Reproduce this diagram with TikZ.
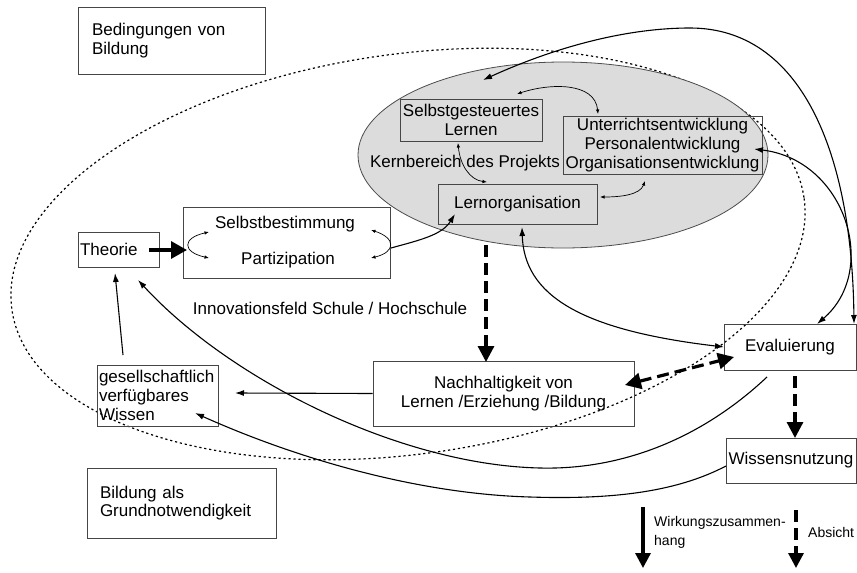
\documentclass[tikz,border=0pt]{standalone}
\usepackage{fontspec}
\setmainfont{Liberation Sans}
\usetikzlibrary{arrows.meta,shapes.geometric}
\definecolor{kerngray}{RGB}{220,220,220}
\definecolor{boxline}{RGB}{70,70,70}
\begin{document}
\begin{tikzpicture}[x=1pt,y=-1pt,
  font=\fontsize{17}{18.7}\selectfont,
  box/.style={draw=boxline, line width=0.9pt, inner xsep=2pt, inner ysep=0pt, align=center},
  lbox/.style={box, align=left},
  txt/.style={inner sep=0pt},
  conn/.style={line width=1.1pt, black},
  medtip/.style={-{Latex[length=9pt,width=6pt]}},
  medboth/.style={{Latex[length=9pt,width=6pt]}-{Latex[length=9pt,width=6pt]}},
  smallboth/.style={line width=0.7pt, {Latex[length=4.5pt,width=3.5pt]}-{Latex[length=4.5pt,width=3.5pt]}},
  thickdash/.style={line width=3.2pt, dash pattern=on 12pt off 6pt},
  bigtip/.style={-{Triangle[length=16pt,width=16pt]}},
  bigboth/.style={{Triangle[length=16pt,width=16pt]}-{Triangle[length=16pt,width=16pt]}},
  dotline/.style={line width=1.2pt, dash pattern=on 2.2pt off 2.8pt}
]
\useasboundingbox (0,0) rectangle (857,573);

% Innovationsfeld (dotted)
\draw[dotline, rotate around={8:(408,254)}] (408,254) ellipse [x radius=400, y radius=200];

% Kernbereich (grey ellipse)
\node[ellipse, draw=black!70, line width=0.8pt, fill=kerngray, minimum width=410pt, minimum height=186pt, inner sep=0pt] (kern) at (563,155) {};
\node[txt] (kernT) at (465,163) {Kernbereich des Projekts};

% boxes
\node[lbox, text width=159pt, inner xsep=14pt, minimum height=67pt] (bed) at (171.5,40.5) {Bedingungen von\\Bildung};
\node[lbox, text width=77pt, minimum height=35pt] (theo) at (118.5,249.5) {Theorie};
\node[box, minimum width=207pt, minimum height=71pt] (selb) at (286.5,242.5) {};
\node[txt] (selbA) at (285,224) {Selbstbestimmung};
\node[txt] (selbB) at (288,260) {Partizipation};
\node[box, minimum width=142pt, minimum height=42pt] (sgl) at (471,120) {Selbstgesteuertes\\Lernen};
\node[box, minimum width=199pt, minimum height=58pt] (uew) at (662.5,145) {Unterrichtsentwicklung\\Personalentwicklung\\Organisationsentwicklung};
\node[box, minimum width=159pt, minimum height=40pt] (lorg) at (517.5,204) {Lernorganisation};
\node[box, minimum width=261pt, minimum height=65pt] (nach) at (503.5,393.5) {Nachhaltigkeit von\\Lernen /Erziehung /Bildung};
\node[lbox, text width=117pt, minimum height=61pt] (ges) at (157.5,395.5) {gesellschaftlich\\verfügbares\\Wissen};
\node[lbox, text width=163pt, inner xsep=13pt, minimum height=70pt] (bga) at (181.5,503) {Bildung als\\Grundnotwendigkeit};
\node[box, minimum width=132pt, minimum height=46pt] (eval) at (790,347) {Evaluierung};
\node[box, minimum width=130pt, minimum height=45pt] (wn) at (791,460.5) {Wissensnutzung};
\node[txt] (innov) at (330,308) {Innovationsfeld Schule / Hochschule};

% coordinates for connector ends
\coordinate (thA) at (149,250);
\coordinate (thB) at (187,250);
\coordinate (slA) at (209,232);
\coordinate (slB) at (209,258);
\coordinate (srA) at (371,230);
\coordinate (srB) at (371,258);
\coordinate (pzA) at (391,248);
\coordinate (pzB) at (455,214);
\coordinate (s1A) at (517,94);
\coordinate (s1B) at (598,114);
\coordinate (s2A) at (458,143);
\coordinate (s2B) at (487,182);
\coordinate (s3A) at (645,181);
\coordinate (s3B) at (600,197);
\coordinate (bcA) at (483,80);
\coordinate (bcM) at (690,28);
\coordinate (bcB) at (854,324);
\coordinate (oeA) at (754,149);
\coordinate (oeB) at (817,324);
\coordinate (leA) at (522,227);
\coordinate (leB) at (724,347);
\coordinate (etA) at (767,377);
\coordinate (etM) at (540,468);
\coordinate (etB) at (138,280);
\coordinate (wgA) at (726,466);
\coordinate (wgM) at (530,497);
\coordinate (wgB) at (195,413);
\coordinate (gtA) at (123,355);
\coordinate (gtB) at (115,273);
\coordinate (ngB) at (235,393);
\coordinate (lnA) at (486,245);
\coordinate (lnB) at (486,362);
\coordinate (ewA) at (795,376);
\coordinate (ewB) at (795,438);
\coordinate (neA) at (625,385);
\coordinate (neB) at (734,357);

% thick arrow Theorie -> Selbstbestimmung/Partizipation
\draw[line width=3.3pt, -{Triangle[length=16pt,width=17pt]}] (thA) -- (thB);

% small arcs
\draw[smallboth] (slA) .. controls (182,238) and (182,252) .. (slB);
\draw[smallboth] (srA) .. controls (396,238) and (396,252) .. (srB);
\draw[smallboth] (s1A) .. controls (550,83) and (595,82) .. (s1B);
\draw[smallboth] (s2A) .. controls (460,165) and (470,180) .. (s2B);
\draw[smallboth] (s3A) .. controls (640,195) and (620,197) .. (s3B);

% Partizipation -> Lernorganisation
\draw[conn, medtip] (pzA) .. controls (420,240) and (442,235) .. (pzB);

% big loop Kernbereich <-> Evaluierung
\draw[conn, medboth] (bcA) .. controls (560,45) and (630,28) .. (bcM) .. controls (800,28) and (852,150) .. (bcB);
% Organisationsentwicklung <-> Evaluierung
\draw[conn, medboth] (oeA) .. controls (845,160) and (880,270) .. (oeB);
% Lernorganisation <-> Evaluierung
\draw[conn, medboth] (leA) .. controls (524,295) and (580,330) .. (leB);
% Evaluierung -> Theorie
\draw[conn, medtip] (etA) .. controls (700,440) and (620,470) .. (etM) .. controls (400,465) and (230,380) .. (etB);
% Wissensnutzung -> gesellschaftlich verfuegbares Wissen
\draw[conn, medtip] (wgA) .. controls (680,490) and (620,500) .. (wgM) .. controls (420,494) and (300,460) .. (wgB);
% gesellschaftlich -> Theorie
\draw[conn, medtip] (gtA) -- (gtB);
% Nachhaltigkeit -> gesellschaftlich
\draw[conn, medtip] (nach.west) -- (ngB);

% thick dashed arrows
\draw[thickdash, bigtip] (lnA) -- (lnB);
\draw[thickdash, bigtip] (ewA) -- (ewB);
\draw[thickdash, bigboth] (neA) -- (neB);

% legend
\coordinate (lg1A) at (643,507);
\coordinate (lg1B) at (643,568);
\coordinate (lg2A) at (796,510);
\coordinate (lg2B) at (796,568);
\draw[line width=3.2pt, -{Triangle[length=15pt,width=15pt]}] (lg1A) -- (lg1B);
\draw[thickdash, -{Triangle[length=15pt,width=15pt]}] (lg2A) -- (lg2B);
\node[txt, anchor=west, align=left, font=\fontsize{14}{18.5}\selectfont] (lgT1) at (654,532.5) {Wirkungszusammen-\\hang};
\node[txt, anchor=west, font=\fontsize{14}{18.5}\selectfont] (lgT2) at (808,532) {Absicht};
\end{tikzpicture}
\end{document}
